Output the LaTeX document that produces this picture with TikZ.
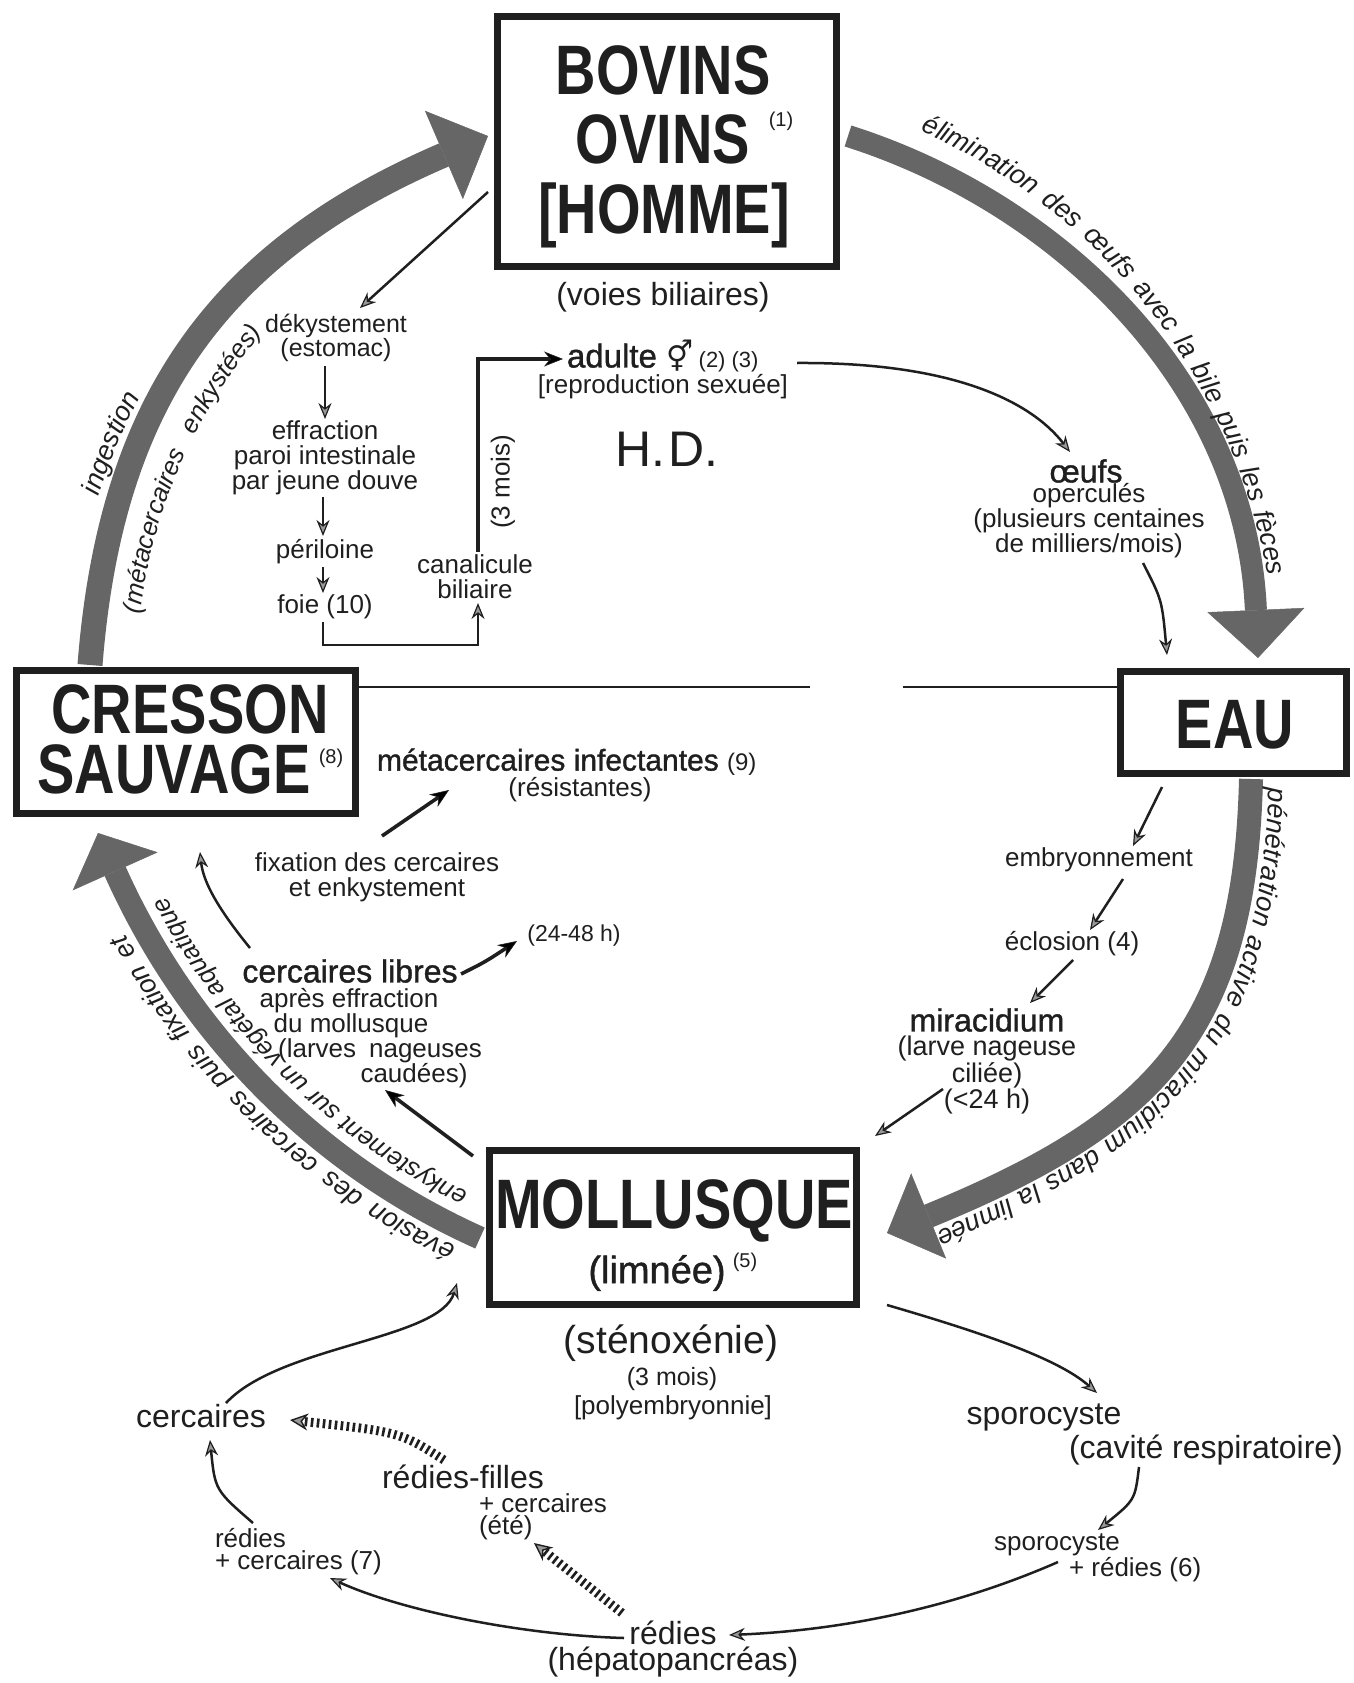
\documentclass[tikz,border=0pt]{standalone}
\usepackage{fontspec}
\setmainfont{Liberation Sans}
\newfontfamily\boxfont[FakeStretch=0.8]{Liberation Sans}
\newfontfamily\medfont[FakeBold=1.2]{Liberation Sans}
\newfontfamily\symfont{DejaVu Sans}
\usetikzlibrary{arrows.meta,decorations.text}
\definecolor{ink}{gray}{0.12}
\definecolor{shaft}{gray}{0.40}
\begin{document}
\begin{tikzpicture}[x=1pt,y=-1pt,
 every node/.style={inner sep=0pt,outer sep=0pt,text=ink},
 bigbox/.style={draw=ink,fill=white,line width=7pt,rectangle},
 boxlbl/.style={anchor=base,font=\boxfont\bfseries\fontsize{70}{70}\selectfont},
 supnum/.style={font=\fontsize{20}{20}\selectfont},
 lblsmall/.style={font=\fontsize{26}{25}\selectfont,align=center},
 lblmid/.style={font=\fontsize{32}{32}\selectfont,align=center},
 lblmed/.style={font=\medfont\fontsize{32}{32}\selectfont,align=center},
 conn/.style={draw=ink,line width=2.5pt,-{Stealth[length=16pt,width=13pt,line width=1.2pt,fill=black!40]}},
 boldconn/.style={draw=ink,line width=3.6pt,-{Stealth[length=19pt,width=15pt,line width=0.6pt]}},
 hatch/.style={draw=ink,line width=9pt,dash pattern=on 2.6pt off 3.4pt,-{Stealth[length=18pt,width=17pt,line width=1.4pt,fill=black!40]}},
 bigshaft/.style={draw=shaft,line cap=butt},
 arrowtext/.style={decorate,decoration={text along path,text color=ink,text={|\itshape\fontsize{27}{30}\selectfont|#1}}},
 arrowtextb/.style={decorate,decoration={text along path,text color=ink,text={|\itshape\fontsize{25.5}{30}\selectfont|#1}}},
]
\fill[white] (0,0) rectangle (1353,1683);
\useasboundingbox (0,0) rectangle (1353,1683);

% ---------- big cycle arrows ----------
\coordinate (C1) at (676,680);
\coordinate (C2) at (775,578);
\coordinate (ing0) at (90,665);   \coordinate (ing1) at (110,410);
\coordinate (ing2) at (211,255);  \coordinate (ing3) at (488,136);
\coordinate (eli0) at (848,136);  \coordinate (eli1) at (1062,204);
\coordinate (eli2) at (1246,385); \coordinate (eli3) at (1258,658);
\coordinate (pen0) at (1251,779); \coordinate (pen1) at (1245,1029);
\coordinate (pen2) at (1158,1122);\coordinate (pen3) at (887,1233);
\coordinate (eva0) at (480,1238); \coordinate (eva1) at (317,1165);
\coordinate (eva2) at (188,1034); \coordinate (eva3) at (98,833);

\draw[bigshaft,line width=25pt,-{Triangle[length=48pt,width=96pt,line width=0.5pt]}]
  (ing0) .. controls (ing1) and (ing2) .. (ing3);
\draw[bigshaft,line width=22pt,-{Triangle[length=48pt,width=97pt,line width=0.5pt]}]
  (eli0) .. controls (eli1) and (eli2) .. (eli3);
\draw[bigshaft,line width=24pt,-{Triangle[length=45pt,width=92pt,line width=0.5pt]}]
  (pen0) .. controls (pen1) and (pen2) .. (pen3);
\draw[bigshaft,line width=23pt,-{Triangle[length=42pt,width=93pt,line width=0.5pt]}]
  (eva0) .. controls (eva1) and (eva2) .. (eva3);

% texts along the big arrows
\path[shift={(C1)},arrowtext={ingestion},decoration={text align=center}]
  (187.75:606) arc[start angle=187.75,end angle=217.75,radius=606];
\path[shift={(C1)},arrowtextb={(métacercaires enkystées)},decoration={text align={fit to path stretching spaces}}]
  (187:540) arc[start angle=187,end angle=220,radius=540];
\path[shift={(C1)},arrowtext={élimination des œufs avec la bile puis les fèces},decoration={text align={fit to path stretching spaces}}]
  (-66:601) arc[start angle=-66,end angle=-10,radius=601];
\path[arrowtext={pénétration active du miracidium dans la limnée},decoration={raise=18pt,text align={fit to path stretching spaces,left indent=8pt,right indent=45pt}}]
  (pen0) .. controls (pen1) and (pen2) .. (pen3);
\path[shift={(C2)},arrowtext={évasion des cercaires puis fixation et},decoration={text align={fit to path stretching spaces}}]
  (115.5:741) arc[start angle=115.5,end angle=151.3,radius=741];
\path[shift={(C2)},arrowtextb={enkystement sur un végétal aquatique},decoration={text align={fit to path stretching spaces}}]
  (116.5:687) arc[start angle=116.5,end angle=152,radius=687];

% ---------- boxes ----------
\node[bigbox,minimum width=339pt,minimum height=250pt] (bovbox) at (667,141.5) {};
\node[boxlbl] (bovA) at (663,95) {BOVINS};
\node[boxlbl] (bovB) at (663,163) {OVINS};
\node[boxlbl] (bovC) at (664,233) {[HOMME]};
\node[supnum] (bovN) at (781,121) {(1)};

\node[bigbox,minimum width=339pt,minimum height=143pt] (cresbox) at (186,742) {};
\node[boxlbl] (cresA) at (190,733) {CRESSON};
\node[boxlbl] (cresB) at (174,793) {SAUVAGE};
\node[supnum] (cresN) at (331,758) {(8)};

\node[bigbox,minimum width=226pt,minimum height=102pt] (eaubox) at (1233.5,722.5) {};
\node[boxlbl] (eauA) at (1235,748) {EAU};

\node[bigbox,minimum width=367pt,minimum height=154pt] (molbox) at (673,1227.5) {};
\node[boxlbl] (molA) at (674,1228) {MOLLUSQUE};
\node[font=\medfont\fontsize{38}{38}\selectfont] (molB) at (657,1273) {(limnée)};
\node[supnum] (molN) at (745,1262) {(5)};

% thin horizontal lines
\coordinate (hl1) at (810,687);
\coordinate (hl2) at (903,687);
\draw[ink,line width=1.6pt] (cresbox.east |- hl1) -- (hl1);
\draw[ink,line width=1.6pt] (hl2) -- (hl2 -| eaubox.west);

% ---------- labels ----------
\node[font=\fontsize{32}{32}\selectfont] (voies) at (663,297) {(voies biliaires)};
\node[font=\fontsize{25}{24}\selectfont,align=center] (dek) at (336,338) {dékystement\\(estomac)};
\node[lblsmall] (eff) at (325,458) {effraction\\paroi intestinale\\par jeune douve};
\node[lblsmall] (peri) at (325,552) {périloine};
\node[lblsmall] (foie) at (325,607) {foie (10)};
\node[lblsmall] (canal) at (475,577) {canalicule\\biliaire};
\node[lblsmall,rotate=90] (mois) at (503,482) {(3 mois)};
\node[anchor=west,font=\medfont\fontsize{33}{33}\selectfont] (adulte) at (567,356)
  {adulte {\symfont\fontsize{30}{30}\selectfont ⚥}\,{\normalfont\fontsize{22}{22}\selectfont (2) (3)}};
\node[lblsmall] (repro) at (663,387) {[reproduction sexuée]};
\node[font=\fontsize{50}{50}\selectfont] (hd) at (667,449) {H.\kern3pt D.};

\node[lblmed] (oeufs) at (1086,471) {œufs};
\node[lblsmall] (oper) at (1089,521) {operculés\\(plusieurs centaines\\de milliers/mois)};

\node[anchor=west,font=\medfont\fontsize{30}{30}\selectfont] (metac) at (377,762)
  {métacercaires infectantes {\normalfont\fontsize{24}{24}\selectfont(9)}};
\node[lblsmall] (resist) at (580,790) {(résistantes)};
\node[lblsmall] (fixat) at (377,877) {fixation des cercaires\\et enkystement};
\node[lblmed] (cerclib) at (350,971) {cercaires libres};
\node[font=\fontsize{23}{23}\selectfont] (h2448) at (574,936) {(24-48 h)};
\node[lblsmall] (apresA) at (349,1001) {après effraction};
\node[lblsmall] (apresB) at (351,1026) {du mollusque};
\node[lblsmall] (apresC) at (380,1051) {(larves\enspace nageuses};
\node[lblsmall] (apresD) at (414,1076) {caudées)};

\node[lblsmall] (embr) at (1099,860) {embryonnement};
\node[lblsmall] (eclo) at (1072,944) {éclosion (4)};
\node[lblmed] (mira) at (987,1020) {miracidium};
\node[font=\fontsize{27}{26.5}\selectfont,align=center] (larve) at (987,1075) {(larve nageuse\\ciliée)\\(<24 h)};

\node[font=\fontsize{39}{39}\selectfont] (steno) at (671,1343) {(sténoxénie)};
\node[font=\fontsize{25}{25}\selectfont] (moisb) at (672,1379) {(3 mois)};
\node[lblsmall] (poly) at (673,1408) {[polyembryonnie]};

\node[lblmid] (cerc) at (201,1416) {cercaires};
\node[lblmid] (redfil) at (463,1477) {rédies-filles};
\node[lblsmall,anchor=west] (plusc) at (479,1503) {+ cercaires};
\node[lblsmall,anchor=west] (ete) at (479,1528) {(été)};
\node[lblsmall,anchor=west] (red7a) at (215,1538) {rédies};
\node[lblsmall,anchor=west] (red7b) at (215,1563) {+ cercaires (7)};
\node[lblmid] (redies) at (673,1633) {rédies};
\node[lblmid] (hepato) at (673,1662) {(hépatopancréas)};
\node[lblmid] (sporo) at (1044,1417) {sporocyste};
\node[lblmid] (cavite) at (1206,1450) {(cavité respiratoire)};
\node[lblsmall] (sporob) at (1057,1545) {sporocyste};
\node[lblsmall,anchor=west] (plusr) at (1069,1570) {+ rédies (6)};

% ---------- connectors ----------
\coordinate (k1a) at (488,192);  \coordinate (k1b) at (360,308);
\draw[conn] (k1a) -- (k1b);
\coordinate (k2a) at (325,366);  \coordinate (k2b) at (325,419);
\draw[conn] (k2a) -- (k2b);
\coordinate (k3a) at (323,497);  \coordinate (k3b) at (323,536);
\draw[conn] (k3a) -- (k3b);
\coordinate (k4a) at (323,567);  \coordinate (k4b) at (323,593);
\draw[conn] (k4a) -- (k4b);
\coordinate (k5a) at (323,622);  \coordinate (k5m) at (323,645);
\coordinate (k5n) at (478,645);  \coordinate (k5b) at (478,603);
\draw[conn] (k5a) -- (k5m) -- (k5n) -- (k5b);
\coordinate (k6a) at (478,552);  \coordinate (k6m) at (478,359); \coordinate (k6b) at (563,359);
\draw[boldconn] (k6a) -- (k6m) -- (k6b);
\coordinate (k7a) at (797,363);  \coordinate (k7b) at (1070,452);
\draw[conn] (k7a) .. controls (950,362) and (1030,400) .. (k7b);
\coordinate (k8a) at (1143,563); \coordinate (k8b) at (1167,655);
\draw[conn] (k8a) .. controls (1162,600) .. (k8b);
\coordinate (k9a) at (1162,787); \coordinate (k9b) at (1133,846);
\draw[conn] (k9a) -- (k9b);
\coordinate (k10a) at (1123,879); \coordinate (k10b) at (1090,930);
\draw[conn] (k10a) -- (k10b);
\coordinate (k11a) at (1073,960); \coordinate (k11b) at (1030,1003);
\draw[conn] (k11a) -- (k11b);
\coordinate (k12a) at (943,1089); \coordinate (k12b) at (875,1136);
\draw[conn] (k12a) -- (k12b);
\coordinate (k13a) at (473,1156); \coordinate (k13b) at (385,1090);
\draw[boldconn] (k13a) -- (k13b);
\coordinate (k14a) at (250,948); \coordinate (k14b) at (200,852);
\draw[conn] (k14a) .. controls (215,905) and (203,880) .. (k14b);
\coordinate (k15a) at (382,836); \coordinate (k15b) at (449,790);
\draw[boldconn] (k15a) -- (k15b);
\coordinate (k16a) at (461,974); \coordinate (k16b) at (517,941);
\draw[boldconn] (k16a) .. controls (485,962) .. (k16b);
\coordinate (k17a) at (887,1305); \coordinate (k17b) at (1097,1393);
\draw[conn] (k17a) .. controls (990,1335) and (1060,1360) .. (k17b);
\coordinate (k18a) at (1139,1467); \coordinate (k18b) at (1098,1530);
\draw[conn] (k18a) .. controls (1135,1500) .. (k18b);
\coordinate (k19a) at (1058,1562); \coordinate (k19b) at (729,1635);
\draw[conn] (k19a) .. controls (960,1605) and (850,1630) .. (k19b);
\coordinate (k20a) at (624,1638); \coordinate (k20b) at (330,1578);
\draw[conn] (k20a) .. controls (520,1635) and (400,1610) .. (k20b);
\coordinate (k21a) at (253,1523); \coordinate (k21b) at (210,1440);
\draw[conn] (k21a) .. controls (215,1490) .. (k21b);
\coordinate (k22a) at (226,1403); \coordinate (k22b) at (457,1283);
\draw[conn] (k22a) .. controls (280,1345) and (440,1340) .. (k22b);
\coordinate (k23a) at (622,1613); \coordinate (k23b) at (534,1543);
\draw[hatch] (k23a) -- (k23b);
\coordinate (k24a) at (444,1460); \coordinate (k24b) at (290,1420);
\draw[hatch] (k24a) .. controls (400,1432) .. (k24b);
\end{tikzpicture}
\end{document}
